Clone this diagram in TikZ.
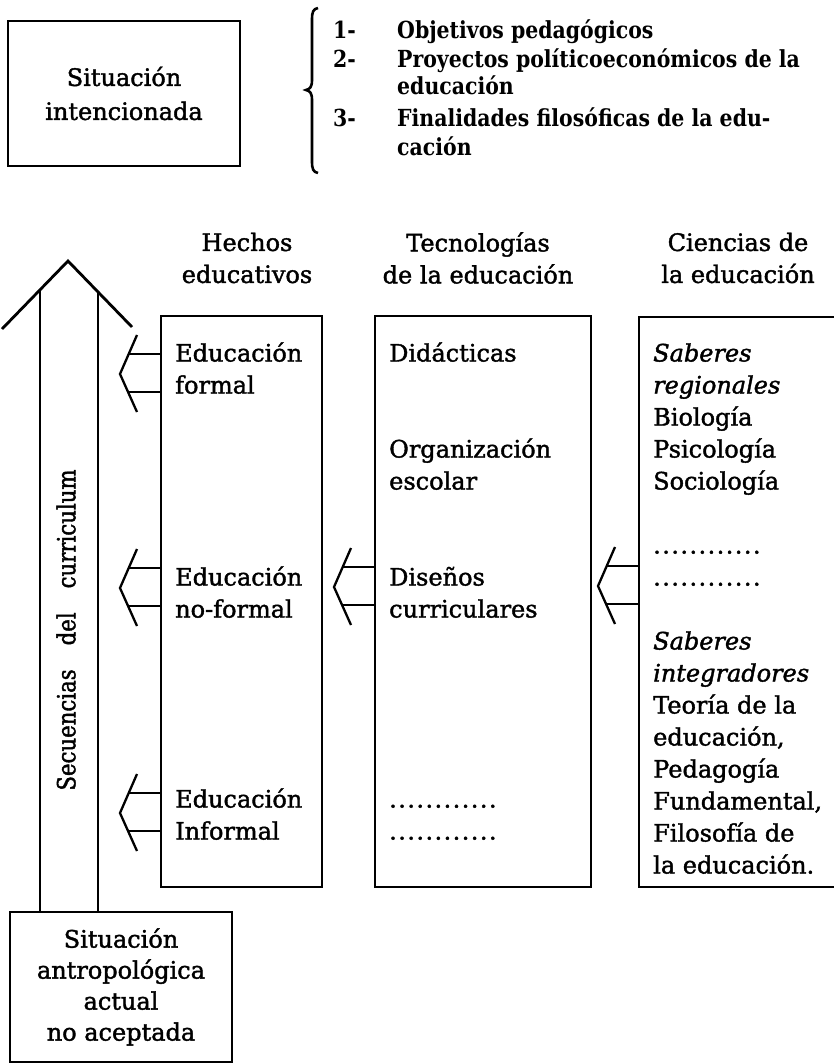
\documentclass[tikz,border=0pt]{standalone}
\usepackage{fontspec}
\setmainfont{DejaVu Serif}[FakeBold=1.6,ItalicFeatures={FakeBold=1.6}]
\newfontfamily\listfont{DejaVu Serif}[FakeStretch=0.87]
\newfontfamily\narrowfont{DejaVu Serif}[FakeStretch=0.85,FakeBold=1.6]
\begin{document}
\begin{tikzpicture}[x=1pt,y=-1pt,
  box/.style={draw,line width=2.6pt,inner sep=0pt,outer sep=0pt,anchor=north west},
  frame/.style={inner sep=0pt,outer sep=0pt,anchor=north west},
  ln/.style={line width=2.8pt},
  txt/.style={font=\fontsize{24}{32}\selectfont,inner sep=0pt,anchor=base west},
  itxt/.style={font=\fontsize{24}{32}\selectfont\itshape,inner sep=0pt,anchor=base west},
  ctxt/.style={font=\fontsize{24}{32}\selectfont,align=center,inner sep=0pt},
  btxt/.style={font=\fontsize{23.5}{28}\listfont\bfseries,inner sep=0pt,anchor=base west},
  chev/.pic={
    \draw[line width=2.3pt] (-24,-38) -- (-41,1) -- (-24,39);
    \draw[line width=1.9pt] (-32.5,-19) -- (0,-19) (-32.5,19) -- (0,19);
  }]
\useasboundingbox (0,0) rectangle (834,1064);

% top box
\node[box,minimum width=232pt,minimum height=145pt] (sitint) at (8,21) {};
\node[ctxt,font=\fontsize{24}{34}\selectfont] (sitinttxt) at (sitint.center) {Situación\\intencionada};

% brace
\draw[line width=2.6pt] (318,8) .. controls (313,9) and (312,12) .. (312,20) -- (312,80)
  .. controls (312,87) and (310,89) .. (306,90) .. controls (310,91) and (312,93) .. (312,100)
  -- (312,161) .. controls (312,169) and (313,172) .. (318,173);

% list
\node[btxt] (n1) at (333,38.5) {1-};
\node[btxt] (l1) at (397,38.5) {Objetivos pedagógicos};
\node[btxt] (n2) at (333,67.5) {2-};
\node[btxt] (l2) at (397,67.5) {Proyectos políticoeconómicos de la};
\node[btxt] (l2b) at (397,94.5) {educación};
\node[btxt] (n3) at (333,126.5) {3-};
\node[btxt] (l3) at (397,126.5) {Finalidades filosóficas de la edu-};
\node[btxt] (l3b) at (397,155.5) {cación};

% column headers
\node[ctxt] (hh) at (247,258) {Hechos\\educativos};
\node[ctxt] (ht) at (478,258) {Tecnologías\\de la educación};
\node[ctxt] (hc) at (738,258) {Ciencias de\\la educación};

% boxes
\node[box,minimum width=161pt,minimum height=571pt] (hechos) at (161,316) {};
\node[box,minimum width=216pt,minimum height=571pt] (tecno) at (375,316) {};
\node[frame,minimum width=195pt,minimum height=570pt] (cien) at (639,317) {};
\draw[line width=2.6pt] (cien.north east) -- (cien.north west) -- (cien.south west) -- (cien.south east);

% Hechos texts
\node[txt] (h1) at (175,361.5) {Educación};
\node[txt] (h2) at (175,393.5) {formal};
\node[txt] (h3) at (175,585.5) {Educación};
\node[txt] (h4) at (175,617.5) {no-formal};
\node[txt] (h5) at (175,807.5) {Educación};
\node[txt] (h6) at (175,839.5) {Informal};

% Tecnologias texts
\node[txt] (t1) at (389,361.5) {Didácticas};
\node[txt] (t2) at (389,457.5) {Organización};
\node[txt] (t3) at (389,489.5) {escolar};
\node[txt] (t4) at (389,585.5) {Diseños};
\node[txt] (t5) at (389,617.5) {curriculares};
\node[txt] (t6) at (389,807.5) {\addfontfeature{LetterSpace=6}............};
\node[txt] (t7) at (389,839.5) {\addfontfeature{LetterSpace=6}............};

% Ciencias texts
\node[itxt] (c1) at (653,361.5) {Saberes};
\node[itxt] (c2) at (653,393.5) {regionales};
\node[txt] (c3) at (653,425.5) {Biología};
\node[txt] (c4) at (653,457.5) {Psicología};
\node[txt] (c5) at (653,489.5) {Sociología};
\node[txt] (c6) at (653,553.5) {\addfontfeature{LetterSpace=6}............};
\node[txt] (c7) at (653,585.5) {\addfontfeature{LetterSpace=6}............};
\node[itxt] (c8) at (653,649.5) {Saberes};
\node[itxt] (c9) at (653,681.5) {integradores};
\node[txt] (c10) at (653,713.5) {Teoría de la};
\node[txt] (c11) at (653,745.5) {educación,};
\node[txt] (c12) at (653,777.5) {Pedagogía};
\node[txt] (c13) at (653,809.5) {Fundamental,};
\node[txt] (c14) at (653,841.5) {Filosofía de};
\node[txt] (c15) at (653,873.5) {la educación.};

% bottom box
\node[box,minimum width=222pt,minimum height=150pt] (sit) at (10,912) {};
\node[ctxt,font=\fontsize{24}{31}\selectfont] (sittxt) at (sit.center) {Situación\\antropológica\\actual\\no aceptada};

% big arrow
\coordinate (sl) at (40,290);
\coordinate (sr) at (98,292);
\draw[ln,line join=miter] (2,329) -- (68,261) -- (132,327);
\draw[ln] (sl) -- (sl |- sit.north);
\draw[ln] (sr) -- (sr |- sit.north);
\node[font=\fontsize{25}{28}\narrowfont,rotate=90,inner sep=0pt] (seq) at (66,630)
  {Secuencias\hspace{24pt}del\hspace{24pt}curriculum};

% small arrows
\coordinate (a1) at (0,373);
\coordinate (a2) at (0,587);
\coordinate (a3) at (0,812);
\coordinate (a4) at (0,586);
\coordinate (a5) at (0,585);
\pic at (hechos.west |- a1) {chev};
\pic at (hechos.west |- a2) {chev};
\pic at (hechos.west |- a3) {chev};
\pic at (tecno.west |- a4) {chev};
\pic at (cien.west |- a5) {chev};
\end{tikzpicture}
\end{document}
